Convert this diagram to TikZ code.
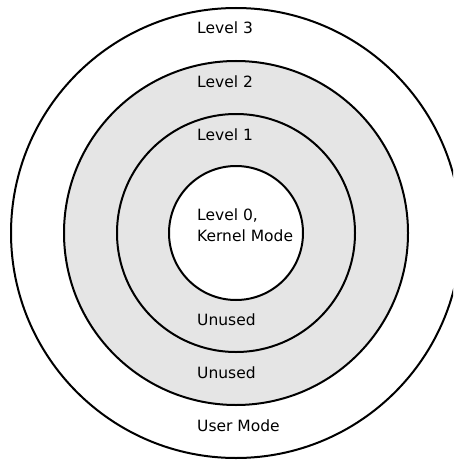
\documentclass[tikz,border=0pt]{standalone}
\usepackage{fontspec}
\setmainfont{DejaVu Sans}
\definecolor{ringgray}{HTML}{E5E5E5}
\begin{document}
\begin{tikzpicture}[x=1pt,y=-1pt,
  ring/.style={draw=black,line width=2pt},
  lbl/.style={anchor=base west,inner sep=0pt,font=\fontsize{15.5}{21}\selectfont}]
\useasboundingbox (0,0) rectangle (453,460);
\clip (0,0) rectangle (453,460);
% concentric protection rings
\coordinate (c) at (236,233);
\draw[ring,fill=white] (c) circle[radius=225];
\draw[ring,fill=ringgray] (c) circle[radius=172];
\draw[ring,fill=ringgray] (c) circle[radius=119];
\draw[ring,fill=white] (c) circle[radius=67];
% ring labels
\node[lbl] (l3) at (197,34) {Level 3};
\node[lbl] (l2) at (197,87) {Level 2};
\node[lbl] (l1) at (197,140) {Level 1};
\node[lbl] (l0) at (197,220) {Level 0,};
\node[lbl] (km) at (197,241) {Kernel Mode};
\node[lbl] (u1) at (197,325) {Unused};
\node[lbl] (u2) at (197,378) {Unused};
\node[lbl] (um) at (197,431) {User Mode};
\end{tikzpicture}
\end{document}
